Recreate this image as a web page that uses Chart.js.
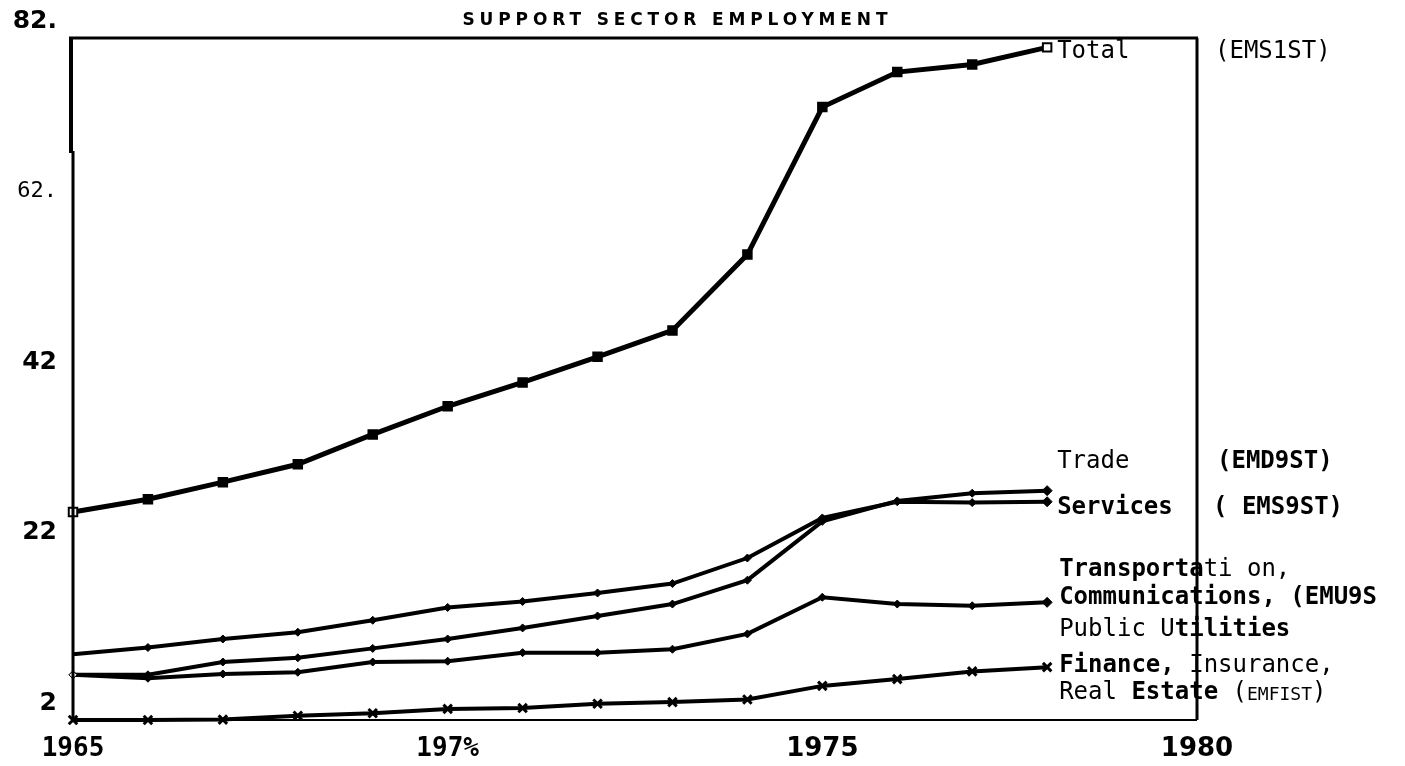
<!DOCTYPE html>
<html><head><meta charset="utf-8">
<script src="https://cdn.jsdelivr.net/npm/chart.js@4.4.1/dist/chart.umd.min.js"></script>
<style>html,body{margin:0;padding:0;background:#fff;overflow:hidden}#wrap{width:1405px;height:766px;position:relative}</style>
</head><body><div id="wrap"><canvas id="c" width="1405" height="766"></canvas></div>
<script>
const years = [1965,1966,1967,1968,1969,1970,1971,1972,1973,1974,1975,1976,1977,1978];
const total = [26.4,27.9,29.9,32.0,35.5,38.8,41.6,44.6,47.7,56.6,73.9,78.0,78.9,80.9];
const services = [9.7,10.5,11.5,12.3,13.7,15.2,15.9,16.9,18.0,21.0,25.7,27.6,27.5,27.6];
const trade = [7.3,7.3,8.8,9.3,10.4,11.5,12.8,14.2,15.6,18.4,25.3,27.7,28.6,28.9];
const transport = [7.3,6.9,7.4,7.6,8.8,8.9,9.9,9.9,10.3,12.1,16.4,15.6,15.4,15.8];
const finance = [2.0,2.0,2.05,2.5,2.8,3.3,3.4,3.9,4.1,4.4,6.0,6.8,7.7,8.2];
const yTickValues = [2,22,42,62,82];
const yTickLabels = ["2","22","42","62.","82."];
const xTickValues = [1965,1970,1975,1980];
const xTickLabels = ["1965","197%","1975","1980"];
const chartTitle = "SUPPORT SECTOR EMPLOYMENT";

const pts = arr => years.map((y,i)=>({x:y,y:arr[i]}));
const n = years.length;
const fillArr = (first, mid, last) => years.map((_,i)=> i===0?first:(i===n-1?last:mid));

const MONO = '"DejaVu Sans Mono", "Liberation Mono", monospace';
const SANS = '"DejaVu Sans", "Liberation Sans", sans-serif';

const framePlugin = {
  id:'frameText',
  afterDraw(chart){
    const ctx = chart.ctx, a = chart.chartArea;
    ctx.save();
    ctx.strokeStyle = '#000'; ctx.lineCap='butt';
    ctx.lineWidth = 3; ctx.beginPath(); ctx.moveTo(a.left-4, a.top); ctx.lineTo(a.right+1, a.top); ctx.stroke();
    ctx.lineWidth = 4; ctx.beginPath(); ctx.moveTo(a.left-2, a.top); ctx.lineTo(a.left-2, a.top+115); ctx.stroke();
    ctx.lineWidth = 3; ctx.beginPath(); ctx.moveTo(a.left, a.top+113); ctx.lineTo(a.left, a.bottom); ctx.stroke();
    ctx.lineWidth = 3; ctx.beginPath(); ctx.moveTo(a.right, a.top); ctx.lineTo(a.right, a.bottom); ctx.stroke();
    ctx.lineWidth = 2; ctx.beginPath(); ctx.moveTo(a.left, a.bottom); ctx.lineTo(a.right, a.bottom); ctx.stroke();

    ctx.fillStyle = '#000';
    ctx.font = 'bold 17px ' + SANS;
    ctx.textBaseline = 'middle'; ctx.textAlign = 'left';
    const target = 425;
    const plain = ctx.measureText(chartTitle).width;
    const ls = (target - plain) / (chartTitle.length - 1);
    try { ctx.letterSpacing = ls.toFixed(2) + 'px'; } catch(e) {}
    const tx = 675 - target/2;
    ctx.fillText(chartTitle, tx, 21);
    try { ctx.letterSpacing = '0px'; } catch(e) {}

    const xs = chart.scales.x;
    const x0 = xs.getPixelForValue(1978) + 10;
    const rows = [
      {y:52,  x:x0, segs:[['Total','n']]},
      {y:52,  x:1215, segs:[['(EMS1ST)','n']]},
      {y:462, x:x0, segs:[['Trade','n']]},
      {y:462, x:1217, segs:[['(EMD9ST)','b']]},
      {y:508, x:x0, segs:[['Services','m']]},
      {y:508, x:1213, segs:[['( EMS9ST)','m']]},
      {y:570, x:x0+2, segs:[['Transporta','b'],['ti on,','n']]},
      {y:598, x:x0+2, segs:[['Communications, (EMU9S','m']]},
      {y:630, x:x0+2, segs:[['Public U','n'],['tilities','b']]},
      {y:666, x:x0+2, segs:[['Finance,','b'],[' Insurance,','n']]},
      {y:693, x:x0+2, segs:[['Real ','n'],['Estate','b'],[' (','n'],['EMFIST','s'],[')','n']]}
    ];
    ctx.textBaseline = 'middle'; ctx.textAlign='left';
    for (const r of rows){
      let x = r.x;
      for (const [t, w] of r.segs){
        if (w==='b') ctx.font = 'bold 24px ' + MONO;
        else if (w==='m') ctx.font = '600 24px ' + MONO;
        else if (w==='s') ctx.font = '18px ' + MONO;
        else ctx.font = '24px ' + MONO;
        ctx.fillText(t, x, w==='s' ? r.y+2 : r.y);
        x += ctx.measureText(t).width;
      }
    }
    ctx.restore();
  }
};

const lineCommon = {borderColor:'#000', borderWidth:4, tension:0, clip:false, pointBorderColor:'#000', fill:false};

new Chart(document.getElementById('c'), {
  type:'line',
  data:{datasets:[
    Object.assign({}, lineCommon, {label:'Total (EMS1ST)', data:pts(total), borderWidth:5, pointStyle:'rect', pointRadius:6, pointBorderWidth:2,
      pointBackgroundColor: fillArr('#fff','#000','#fff')}),
    Object.assign({}, lineCommon, {label:'Services (EMS9ST)', data:pts(services), pointStyle:'rectRot', pointRadius:fillArr(0,4,5), pointBorderWidth:1, pointBackgroundColor:'#000'}),
    Object.assign({}, lineCommon, {label:'Trade (EMD9ST)', data:pts(trade), pointStyle:'rectRot', pointRadius:fillArr(4,4,5), pointBorderWidth:1, pointBackgroundColor:fillArr('#fff','#000','#000')}),
    Object.assign({}, lineCommon, {label:'Transportation, Communications, Public Utilities (EMU9ST)', data:pts(transport), pointStyle:'rectRot', pointRadius:fillArr(4,4,5), pointBorderWidth:1, pointBackgroundColor:fillArr('#fff','#000','#000')}),
    Object.assign({}, lineCommon, {label:'Finance, Insurance, Real Estate (EMFIST)', data:pts(finance), pointStyle:'crossRot', pointRadius:6, pointBorderWidth:3})
  ]},
  options:{
    responsive:false, devicePixelRatio:1, animation:false,
    layout:{padding:{left:0,right:208,top:38,bottom:0}},
    plugins:{legend:{display:false}, tooltip:{enabled:false}, title:{display:false}},
    scales:{
      x:{type:'linear', min:1965, max:1980,
        grid:{display:false, drawTicks:false}, border:{display:false},
        afterBuildTicks: s => { s.ticks = xTickValues.map(v=>({value:v})); },
        afterFit: s => { s.height = 46; },
        ticks:{autoSkip:false, maxRotation:0, minRotation:0, padding:14, color:'#000',
          callback:(v)=> xTickLabels[xTickValues.indexOf(v)],
          font: c => (c.index<2 ? {family:MONO, size:26, weight:'bold'} : {family:SANS, size:26, weight:'bold'})
        }
      },
      y:{type:'linear', min:2, max:82,
        grid:{display:false, drawTicks:false}, border:{display:false},
        afterBuildTicks: s => { s.ticks = yTickValues.map(v=>({value:v})); },
        afterFit: s => { s.width = 73; },
        ticks:{autoSkip:false, padding:16, labelOffset:-17, color:'#000',
          callback:(v)=> yTickLabels[yTickValues.indexOf(v)],
          font: c => (yTickLabels[c.index] && yTickLabels[c.index]==='62.' ? {family:MONO, size:22, weight:'normal'} : {family:SANS, size:25, weight:'bold'})
        }
      }
    }
  },
  plugins:[framePlugin]
});
</script></body></html>
